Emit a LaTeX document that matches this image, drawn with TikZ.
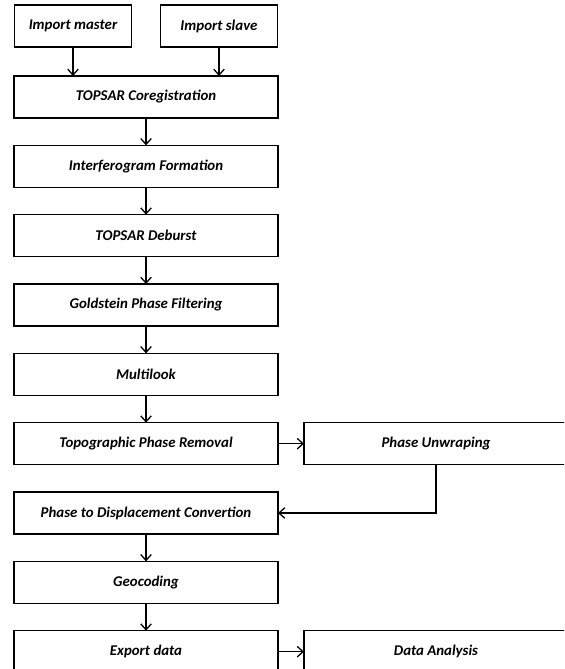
\documentclass[tikz,border=0pt]{standalone}
\usepackage{fontspec}
\setmainfont{Carlito}
\usetikzlibrary{positioning,arrows.meta}

\tikzset{
  procbox/.style={draw, line width=1.3pt, minimum width=7.92cm, minimum height=1.26cm,
    font=\fontsize{12.7}{14}\selectfont\bfseries\itshape, inner sep=0pt, outer sep=0pt},
  inbox/.style={procbox, minimum width=3.5cm},
  flow/.style={line width=1.1pt, -{Straight Barb[length=5pt,width=9pt,line width=1.1pt]}}
}

\begin{document}
\begin{tikzpicture}
  \useasboundingbox (0,0) rectangle (16.92,-20.07);
  \clip (0,0) rectangle (16.92,-20.07);

  % inputs
  \node[inbox] (master) at (2.19,-0.78) {Import master};
  \node[inbox] (slave) at (6.57,-0.78) {Import slave};

  % main chain
  \node[procbox] (coreg) at (4.38,-2.91) {TOPSAR Coregistration};
  \node[procbox, below=0.82cm of coreg] (interf) {Interferogram Formation};
  \node[procbox, below=0.82cm of interf] (deburst) {TOPSAR Deburst};
  \node[procbox, below=0.82cm of deburst] (filter) {Goldstein Phase Filtering};
  \node[procbox, below=0.82cm of filter] (mlook) {Multilook};
  \node[procbox, below=0.82cm of mlook] (topo) {Topographic Phase Removal};
  \node[procbox, right=0.78cm of topo] (unwrap) {Phase Unwraping};
  \node[procbox, below=0.82cm of topo] (disp) {Phase to Displacement Convertion};
  \node[procbox, below=0.82cm of disp] (geocod) {Geocoding};
  \node[procbox, below=0.82cm of geocod] (export) {Export data};
  \node[procbox, right=0.78cm of export] (analysis) {Data Analysis};

  % connectors
  \draw[flow] (master) -- (master |- coreg.north);
  \draw[flow] (slave) -- (slave |- coreg.north);
  \draw[flow] (coreg) -- (interf);
  \draw[flow] (interf) -- (deburst);
  \draw[flow] (deburst) -- (filter);
  \draw[flow] (filter) -- (mlook);
  \draw[flow] (mlook) -- (topo);
  \draw[flow] (topo) -- (unwrap);
  \draw[flow] (unwrap.south) |- (disp.east);
  \draw[flow] (disp) -- (geocod);
  \draw[flow] (geocod) -- (export);
  \draw[flow] (export) -- (analysis);
\end{tikzpicture}
\end{document}
